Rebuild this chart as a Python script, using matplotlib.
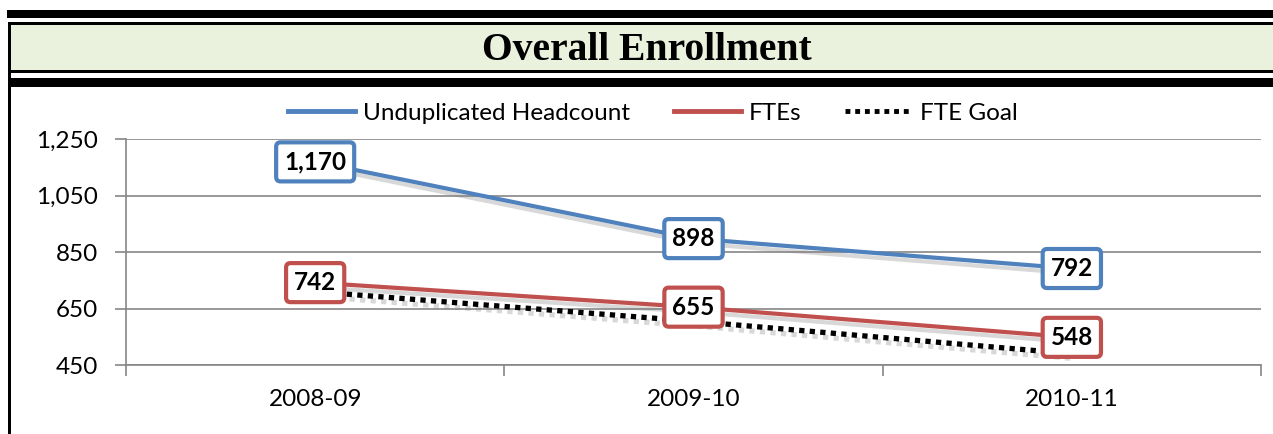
import matplotlib.pyplot as plt
import matplotlib.patheffects as pe
from matplotlib.patches import Rectangle
from matplotlib.lines import Line2D
from matplotlib.ticker import FuncFormatter

# === DONNÉES ===
years = ['2008-09', '2009-10', '2010-11']
headcount = [1170, 898, 792]
ftes = [742, 655, 548]
fte_goal = [710, 605, 490]
y_ticks = [450, 650, 850, 1050, 1250]

BLUE = '#4F81BD'
RED = '#C0504D'
GRID = '#868686'
W, H = 1273, 434
FS = 17.5

plt.rcParams['font.family'] = ['Lato', 'DejaVu Sans']

fig = plt.figure(figsize=(W / 100, H / 100), dpi=100)

# === CADRE + BANDEAU TITRE (coordonnées pixels) ===
bg = fig.add_axes([0, 0, 1, 1], zorder=0)
bg.set_xlim(0, W)
bg.set_ylim(H, 0)
bg.axis('off')
bg.add_patch(Rectangle((7, 10), W, 7.5, color='black', lw=0))
bg.add_patch(Rectangle((8, 22), W, 3, color='black', lw=0))
bg.add_patch(Rectangle((8, 25), W, 44.5, color='#EAF1DD', lw=0))
bg.add_patch(Rectangle((8, 69.5), W, 3, color='black', lw=0))
bg.add_patch(Rectangle((8, 78), W, 8.5, color='black', lw=0))
bg.add_patch(Rectangle((8, 22), 3, H, color='black', lw=0))
bg.text(647, 59.5, 'Overall Enrollment', ha='center', va='baseline',
        family='Liberation Serif', weight='bold', fontsize=28.5)

# === GRAPHIQUE ===
ax = fig.add_axes([126 / W, 1 - 365 / H, (1261 - 126) / W, (365 - 139.3) / H], zorder=1)
ax.patch.set_alpha(0)
x = list(range(len(years)))

shadow = [pe.SimpleLineShadow(offset=(2, -3.5), shadow_color='#808080', alpha=0.3), pe.Normal()]
ax.plot(x, fte_goal, color='black', lw=3.8, linestyle=(0, (1, 1)),
        dash_capstyle='butt', path_effects=shadow, zorder=2)
ax.plot(x, ftes, color=RED, lw=3, solid_capstyle='butt', path_effects=shadow, zorder=3)
ax.plot(x, headcount, color=BLUE, lw=3, solid_capstyle='butt', path_effects=shadow, zorder=3)

for series, col in [(headcount, BLUE), (ftes, RED)]:
    for i, v in zip(x, series):
        ax.text(i, v, f'{v:,}', ha='center', va='center', fontsize=FS, weight='bold',
                zorder=5,
                bbox=dict(boxstyle='round,pad=0.33,rounding_size=0.18', fc='white', ec=col, lw=3))

ax.set_xlim(-0.5, 2.5)
ax.set_ylim(450, 1250)
ax.set_yticks(y_ticks)
ax.yaxis.set_major_formatter(FuncFormatter(lambda v, p: f'{v:,.0f}'))
ax.yaxis.grid(True, color=GRID, lw=1.2)
ax.set_axisbelow(True)
for s in ['top', 'right']:
    ax.spines[s].set_visible(False)
for s in ['left', 'bottom']:
    ax.spines[s].set_color(GRID)
    ax.spines[s].set_linewidth(1.2)

ax.tick_params(axis='y', length=8, width=1.2, color=GRID, pad=12, labelsize=FS)
ax.set_xticks(x, years)
ax.tick_params(axis='x', which='major', length=0, pad=17, labelsize=FS)
ax.set_xticks([-0.5, 0.5, 1.5, 2.5], minor=True)
ax.tick_params(axis='x', which='minor', length=8, width=1.2, color=GRID)

# === LÉGENDE ===
handles = [
    Line2D([], [], color=BLUE, lw=3.5),
    Line2D([], [], color=RED, lw=3.5),
    Line2D([], [], color='black', lw=3.5, linestyle=(0, (1, 1)), dash_capstyle='butt'),
]
labels = ['Unduplicated Headcount', 'FTEs', 'FTE Goal']
fig.legend(handles, labels, loc='center', bbox_to_anchor=(653 / W, 1 - 113 / H),
           ncol=3, frameon=False, fontsize=FS, handlelength=2.75,
           handletextpad=0.33, columnspacing=1.8)

fig.savefig('out.png', dpi=100)
